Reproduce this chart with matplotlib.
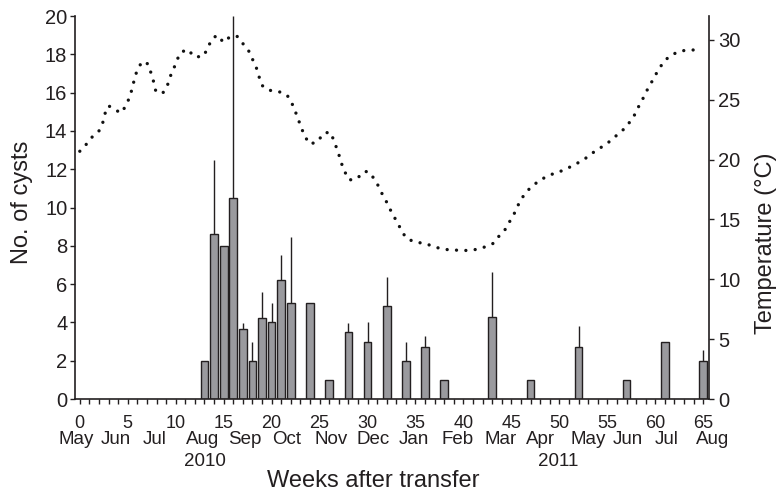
import numpy as np
import matplotlib
matplotlib.use('Agg')
import matplotlib.pyplot as plt

plt.rcParams['font.family'] = ['Liberation Sans', 'DejaVu Sans']

# cyst counts: sampling week, mean, upper SD
weeks = [13, 14, 15, 16, 17, 18, 19, 20, 21, 22, 24, 26, 28, 30, 32, 34, 36, 38, 43, 47, 52, 57, 61, 65]
cysts = [2.0, 8.6, 8.0, 10.5, 3.65, 2.0, 4.25, 4.0, 6.2, 5.0, 5.0, 1.0, 3.5, 3.0, 4.85, 2.0, 2.7, 1.0,
         4.3, 1.0, 2.7, 1.0, 3.0, 2.0]
cysts_sd = [0, 3.9, 0, 9.5, 0.3, 1.0, 1.35, 1.0, 1.3, 3.45, 0, 0, 0.45, 1.0, 1.5, 1.0, 0.6, 0,
            2.35, 0, 1.1, 0, 0, 0.55]

# water temperature trace (deg C)
temp_week = [0.0, 0.7, 1.3, 2.0, 2.4, 2.6, 3.0, 3.6, 4.3, 4.9, 5.2, 5.5, 5.7, 6.0, 6.5, 7.1, 7.4, 7.7,
             7.9, 8.6, 9.1, 9.4, 9.8, 10.1, 10.6, 11.3, 11.9, 12.8, 13.3, 13.7, 14.3, 15.0, 15.7, 16.4,
             17.0, 17.6, 18.0, 18.4, 18.7, 19.0, 19.7, 20.7, 21.6, 22.0, 22.4, 22.7, 23.1, 23.4, 24.0,
             24.8, 25.4, 26.1, 26.5, 27.1, 27.4, 27.8, 28.1, 28.9, 29.6, 30.1, 30.7, 31.2, 31.6, 32.1,
             32.5, 33.0, 33.4, 33.9, 34.1, 35.0, 36.0, 37.0, 38.0, 39.0, 40.0, 41.0, 41.9, 42.8, 43.1,
             43.7, 44.3, 44.8, 45.3, 45.7, 46.2, 46.8, 47.1, 47.8, 48.7, 49.6, 50.4, 51.4, 52.1, 52.9,
             53.7, 54.5, 55.3, 56.0, 56.8, 57.1, 57.7, 58.1, 58.6, 59.0, 59.5, 59.9, 60.4, 61.0, 61.8,
             62.8, 63.7, 64.7]
temp_c = [20.7, 21.3, 21.9, 22.4, 23.1, 23.8, 24.5, 24.2, 23.9, 24.6, 25.3, 26.0, 26.8, 27.5, 28.2, 28.0,
          27.3, 26.5, 25.8, 25.5, 26.1, 26.9, 27.6, 28.3, 29.0, 29.2, 28.6, 28.6, 29.2, 30.0, 30.4, 29.8,
          30.3, 30.3, 29.7, 29.1, 28.4, 27.7, 26.9, 26.2, 25.8, 25.7, 25.4, 24.9, 24.2, 23.5, 22.7, 22.0,
          21.3, 21.5, 22.2, 22.3, 21.6, 20.2, 19.4, 18.7, 18.3, 18.4, 19.0, 19.0, 18.4, 17.7, 17.0, 16.3,
          15.6, 14.9, 14.3, 13.6, 13.4, 13.1, 13.0, 12.7, 12.5, 12.45, 12.4, 12.45, 12.6, 12.9, 13.0,
          13.6, 14.1, 14.8, 15.5, 16.2, 16.9, 17.5, 17.7, 18.2, 18.6, 18.9, 19.1, 19.5, 19.8, 20.2,
          20.7, 21.1, 21.55, 22.05, 22.6, 22.9, 23.5, 24.2, 24.9, 25.6, 26.3, 26.9, 27.6, 28.3, 28.8,
          29.1, 29.15, 29.2]

month_pos = [-0.35, 3.8, 7.85, 12.8, 17.2, 21.6, 26.2, 30.6, 34.8, 39.4, 43.9, 48.0, 53.0, 57.1, 61.2, 66.0]
month_lbl = ['May', 'Jun', 'Jul', 'Aug', 'Sep', 'Oct', 'Nov', 'Dec', 'Jan', 'Feb', 'Mar', 'Apr',
             'May', 'Jun', 'Jul', 'Aug']
year_pos = [13.0, 49.9]
year_lbl = ['2010', '2011']

INK = '#231f20'

fig = plt.figure(figsize=(7.78, 4.94), dpi=100)
ax = fig.add_axes([0.0964, 0.1923, 0.8149, 0.7753])
ax2 = ax.twinx()

# bars with upper-only error lines
ax.bar(weeks, cysts, width=0.8, color='#9a9a9e', edgecolor=INK, linewidth=1.0, zorder=2)
ax.errorbar(weeks, cysts, yerr=[np.zeros(len(cysts_sd)), cysts_sd], fmt='none',
            ecolor=INK, elinewidth=1.0, capsize=0, zorder=3)

# temperature as a round-dotted line
ax2.plot(temp_week, temp_c, color='#111111', linewidth=2.4,
         linestyle=(0, (0.01, 2.8)), dash_capstyle='round', solid_capstyle='round')

ax.set_xlim(-0.5, 65.6)
ax.set_ylim(0, 20)
ax2.set_ylim(0, 32)

ax.set_xticks(range(0, 66, 5))
ax.set_xticks(range(0, 66), minor=True)
ax.set_yticks(range(0, 21, 2))
ax2.set_yticks(range(0, 31, 5))

for a in (ax, ax2):
    a.spines['top'].set_visible(False)
    for s in a.spines.values():
        s.set_color(INK)
        s.set_linewidth(1.2)
ax2.spines['left'].set_visible(False)
ax2.spines['bottom'].set_visible(False)
ax.spines['right'].set_visible(False)

ax.tick_params(axis='x', which='both', direction='out', length=3.5, width=1.0, color=INK,
               pad=8, labelsize=13, labelcolor=INK)
ax.tick_params(axis='y', direction='out', length=3.5, width=1.0, color=INK,
               pad=2, labelsize=14.5, labelcolor=INK)
ax2.tick_params(axis='y', direction='out', length=3.5, width=1.0, color=INK,
                pad=3, labelsize=14.5, labelcolor=INK)

tr = ax.get_xaxis_transform()
for p, m in zip(month_pos, month_lbl):
    ax.text(p, -0.107, m, transform=tr, ha='center', va='center', fontsize=13.5, color=INK)
for p, y in zip(year_pos, year_lbl):
    ax.text(p, -0.163, y, transform=tr, ha='center', va='center', fontsize=13.5, color=INK)
ax.text(30.6, -0.215, 'Weeks after transfer', transform=tr, ha='center', va='center',
        fontsize=17, color=INK)

fig.text(0.028, 0.59, 'No. of cysts', rotation=90, ha='center', va='center', fontsize=17, color=INK)
fig.text(0.985, 0.508, 'Temperature (°C)', rotation=90, ha='center', va='center', fontsize=17, color=INK)

fig.savefig('out.png', dpi=100)
